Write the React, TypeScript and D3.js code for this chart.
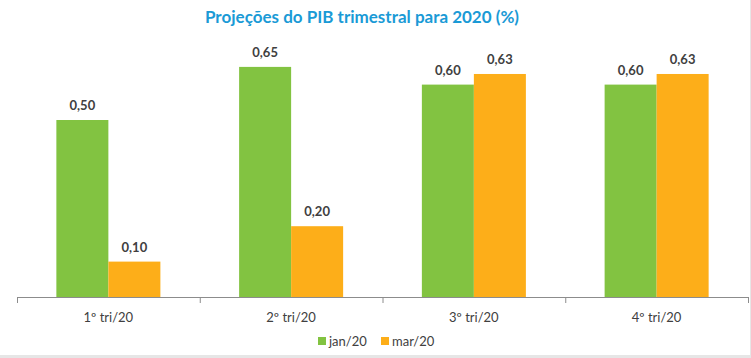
import React from "react";
import * as d3 from "d3";

const categories = ["1º tri/20", "2º tri/20", "3º tri/20", "4º tri/20"];
const seriesNames = ["jan/20", "mar/20"];
const jan20 = [0.5, 0.65, 0.6, 0.6];
const mar20 = [0.1, 0.2, 0.63, 0.63];
const colors = ["#82c341", "#fdae19"];

const W = 751;
const H = 358;

export default function App() {
  const x = d3.scaleBand<string>().domain(categories).range([17, 748]).paddingInner(0).paddingOuter(0);
  const inner = d3.scaleBand<string>().domain(seriesNames).range([0, x.bandwidth()]).paddingInner(0).paddingOuter(0.757);
  const y = d3.scaleLinear().domain([0, 0.7]).range([297, 297 - 0.7 * 354]);
  const fmt = (v: number) => d3.format(".2f")(v).replace(".", ",");
  const series = [jan20, mar20];
  const font = "Lato, 'Open Sans', sans-serif";
  const ticks = [...categories.map((c) => x(c) as number), 748];
  return (
    <svg width={W} height={H} style={{ position: "absolute", left: 0, top: 0, background: "#fff" }} fontFamily={font}>
      <rect x={0} y={355} width={W} height={3} fill="#e6e6e6" />
      <rect x={750} y={0} width={1} height={H} fill="#e6e6e6" />
      <text x={362} y={23} textAnchor="middle" fontSize={17} fontWeight="bold" fill="#1a9ad6">
        Projeções do PIB trimestral para 2020 (%)
      </text>
      {series.map((vals, si) =>
        vals.map((v, i) => {
          const bx = (x(categories[i]) as number) + (inner(seriesNames[si]) as number);
          const bw = inner.bandwidth();
          return (
            <g key={`${si}-${i}`}>
              <rect x={bx} y={y(v)} width={bw} height={y(0) - y(v)} fill={colors[si]} />
              <text x={bx + bw / 2} y={y(v) - 10} textAnchor="middle" fontSize={13} fontWeight="bold" fill="#404040">
                {fmt(v)}
              </text>
            </g>
          );
        })
      )}
      <line x1={17} x2={748} y1={297.5} y2={297.5} stroke="#8c8c8c" strokeWidth={1} />
      {ticks.map((t, i) => (
        <line key={i} x1={t + 0.5} x2={t + 0.5} y1={297} y2={303} stroke="#8c8c8c" strokeWidth={1} />
      ))}
      {categories.map((c) => (
        <text key={c} x={(x(c) as number) + x.bandwidth() / 2} y={322} textAnchor="middle" fontSize={13} fill="#404040">
          {c}
        </text>
      ))}
      {seriesNames.map((n, i) => {
        const lx = [318, 381][i];
        return (
          <g key={n}>
            <rect x={lx} y={337} width={8} height={8} fill={colors[i]} />
            <text x={lx + 11} y={346} fontSize={13} fill="#404040">
              {n}
            </text>
          </g>
        );
      })}
    </svg>
  );
}
